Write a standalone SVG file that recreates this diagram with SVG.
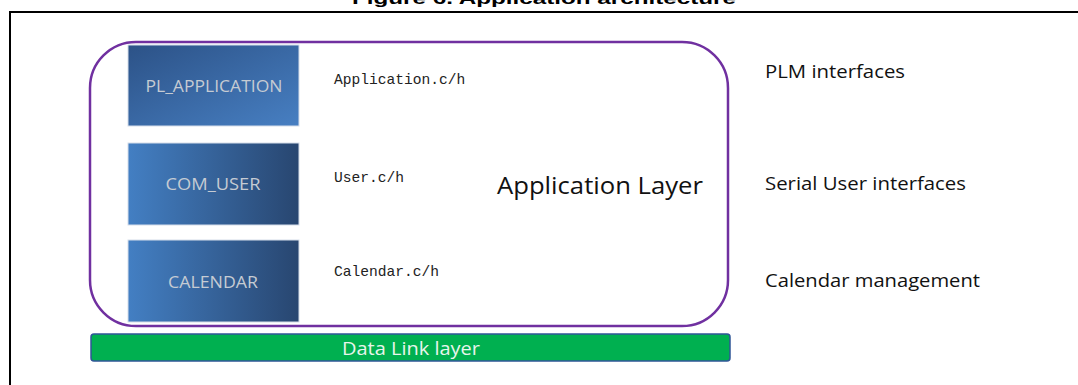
<svg xmlns="http://www.w3.org/2000/svg" width="1078" height="385" viewBox="0 0 1078 385">
<defs>
<linearGradient id="gDiag" x1="0" y1="0" x2="1" y2="1">
<stop offset="0" stop-color="#2C5287"/>
<stop offset="1" stop-color="#477FC2"/>
</linearGradient>
<linearGradient id="gHor" x1="0" y1="0" x2="1" y2="0">
<stop offset="0" stop-color="#437FC3"/>
<stop offset="1" stop-color="#284670"/>
</linearGradient>
<style>
.box{stroke:#D6DEEA;stroke-width:1}
.blab{font-family:"Open Sans","Noto Sans",sans-serif;font-size:17px;fill:#C5CBD3;text-anchor:middle}
.mono{font-family:"Liberation Mono",monospace;font-size:14.6px;fill:#222}
.side{font-family:"Open Sans","Noto Sans",sans-serif;font-size:18px;fill:#111}
</style>
</defs>
<rect width="1078" height="385" fill="#fff"/>
<text x="544" y="4" text-anchor="middle" font-family="Liberation Sans,Arial,sans-serif" font-weight="bold" font-size="17" textLength="384" lengthAdjust="spacingAndGlyphs" fill="#000">Figure 6. Application architecture</text>
<rect x="10" y="12" width="1090" height="400" fill="none" stroke="#000" stroke-width="2"/>
<g id="app-layer">
<rect x="90" y="42" width="638" height="284" rx="46" ry="46" fill="none" stroke="#7030A0" stroke-width="2.5"/>
<text x="600" y="194" text-anchor="middle" font-family="Open Sans,Noto Sans,sans-serif" font-size="24" textLength="206" lengthAdjust="spacingAndGlyphs" fill="#111">Application Layer</text>
</g>
<g id="pl-application">
<rect class="box" x="128" y="45" width="171" height="81" fill="url(#gDiag)"/>
<text class="blab" x="214" y="92" textLength="137" lengthAdjust="spacingAndGlyphs">PL_APPLICATION</text>
</g>
<g id="com-user">
<rect class="box" x="128" y="143" width="171" height="82" fill="url(#gHor)"/>
<text class="blab" x="213" y="190" textLength="95" lengthAdjust="spacingAndGlyphs">COM_USER</text>
</g>
<g id="calendar">
<rect class="box" x="128" y="240" width="171" height="82" fill="url(#gHor)"/>
<text class="blab" x="213" y="288" textLength="90" lengthAdjust="spacingAndGlyphs">CALENDAR</text>
</g>
<g id="files">
<text class="mono" x="334" y="84">Application.c/h</text>
<text class="mono" x="334" y="182">User.c/h</text>
<text class="mono" x="334" y="276">Calendar.c/h</text>
</g>
<g id="descriptions">
<text class="side" x="765" y="78" textLength="140" lengthAdjust="spacingAndGlyphs">PLM interfaces</text>
<text class="side" x="765" y="190" textLength="201" lengthAdjust="spacingAndGlyphs">Serial User interfaces</text>
<text class="side" x="765" y="287" textLength="215" lengthAdjust="spacingAndGlyphs">Calendar management</text>
</g>
<g id="data-link">
<rect x="91" y="334" width="639" height="27" rx="3" ry="3" fill="#00B050" stroke="#2F5597" stroke-width="1.5"/>
<text x="411" y="355" text-anchor="middle" font-family="Open Sans,Noto Sans,sans-serif" font-size="18" textLength="138" lengthAdjust="spacingAndGlyphs" fill="#E8F5EC">Data Link layer</text>
</g>
<g id="connectors"></g>
</svg>
